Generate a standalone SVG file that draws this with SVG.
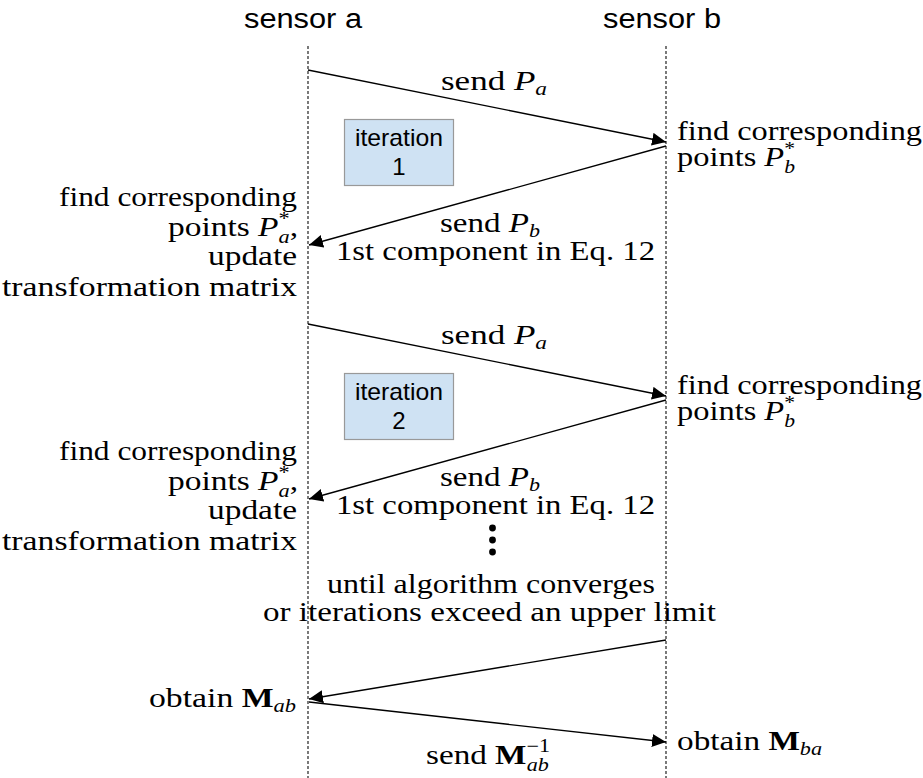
<svg xmlns="http://www.w3.org/2000/svg" width="923" height="778" viewBox="0 0 923 778">
  <style>
    .hd { font-family: "Liberation Sans", Arial, sans-serif; font-size: 27px; fill: #000; }
    .it { font-family: "Liberation Sans", Arial, sans-serif; font-size: 24px; fill: #000; text-anchor: middle; }
    .tx { font-family: "Liberation Serif", "Times New Roman", serif; font-size: 27px; fill: #000; }
    .mi { font-style: italic; }
    .mb { font-weight: bold; }
    .sub { font-style: italic; font-size: 18px; }
    .sup { font-size: 18px; }
    .life { stroke: #222; stroke-width: 1.2; stroke-dasharray: 3 2; fill: none; }
    .msg { stroke: #000; stroke-width: 1.3; fill: none; marker-end: url(#arr); }
    .box { fill: #cfe2f3; stroke: #999; stroke-width: 1.2; }
  </style>
  <defs>
    <marker id="arr" markerUnits="userSpaceOnUse" markerWidth="15" markerHeight="14" refX="14" refY="6.5" orient="auto">
      <path d="M0,0 L14,6.5 L0,13 Z" fill="#000"/>
    </marker>
  </defs>
  <rect width="923" height="778" fill="#fff"/>

  <!-- lifelines -->
  <g id="sensor-a">
    <text class="hd" x="244" y="28" textLength="118" lengthAdjust="spacingAndGlyphs">sensor a</text>
    <line class="life" x1="308" y1="46" x2="308" y2="778"/>
  </g>
  <g id="sensor-b">
    <text class="hd" x="603" y="28" textLength="118" lengthAdjust="spacingAndGlyphs">sensor b</text>
    <line class="life" x1="666" y1="46" x2="666" y2="778"/>
  </g>

  <!-- iteration markers -->
  <g id="iteration-1">
    <rect class="box" x="344.5" y="119.5" width="109" height="66"/>
    <text class="it" x="399" y="146" textLength="88" lengthAdjust="spacingAndGlyphs">iteration</text>
    <text class="it" x="399" y="175">1</text>
  </g>
  <g id="iteration-2">
    <rect class="box" x="344.5" y="373.5" width="109" height="66"/>
    <text class="it" x="399" y="400" textLength="88" lengthAdjust="spacingAndGlyphs">iteration</text>
    <text class="it" x="399" y="429">2</text>
  </g>

  <!-- messages -->
  <g id="connectors">
    <line class="msg" x1="308" y1="70" x2="666" y2="142"/>
    <line class="msg" x1="666" y1="146" x2="309" y2="245"/>
    <line class="msg" x1="308" y1="324" x2="666" y2="396"/>
    <line class="msg" x1="666" y1="400" x2="309" y2="499"/>
    <line class="msg" x1="666" y1="640" x2="309" y2="699"/>
    <line class="msg" x1="309" y1="702" x2="666" y2="742"/>
  </g>

  <!-- labels of round 1 -->
  <g id="round-1-labels" class="tx">
    <text x="494" y="90" text-anchor="middle" textLength="106" lengthAdjust="spacingAndGlyphs">send <tspan class="mi">P</tspan><tspan class="sub" dy="5">a</tspan></text>
    <text x="677" y="140" textLength="245" lengthAdjust="spacingAndGlyphs">find corresponding</text>
    <text x="677" y="166" textLength="118" lengthAdjust="spacingAndGlyphs">points <tspan class="mi">P</tspan><tspan class="sup" dy="-11">*</tspan><tspan class="sub" dx="-9" dy="18">b</tspan></text>
    <text x="490" y="232" text-anchor="middle" textLength="100" lengthAdjust="spacingAndGlyphs">send <tspan class="mi">P</tspan><tspan class="sub" dy="5">b</tspan></text>
    <text x="655" y="260" text-anchor="end" textLength="319" lengthAdjust="spacingAndGlyphs">1st component in Eq. 12</text>
    <text x="297" y="206" text-anchor="end" textLength="238" lengthAdjust="spacingAndGlyphs">find corresponding</text>
    <text x="298" y="236" text-anchor="end" textLength="130" lengthAdjust="spacingAndGlyphs">points <tspan class="mi">P</tspan><tspan class="sup" dy="-11">*</tspan><tspan class="sub" dx="-9" dy="18">a</tspan><tspan dy="-7">,</tspan></text>
    <text x="297" y="265" text-anchor="end" textLength="89" lengthAdjust="spacingAndGlyphs">update</text>
    <text x="297" y="296" text-anchor="end" textLength="295" lengthAdjust="spacingAndGlyphs">transformation matrix</text>
  </g>

  <!-- labels of round 2 -->
  <g id="round-2-labels" class="tx">
    <text x="494" y="344" text-anchor="middle" textLength="106" lengthAdjust="spacingAndGlyphs">send <tspan class="mi">P</tspan><tspan class="sub" dy="5">a</tspan></text>
    <text x="677" y="394" textLength="245" lengthAdjust="spacingAndGlyphs">find corresponding</text>
    <text x="677" y="420" textLength="118" lengthAdjust="spacingAndGlyphs">points <tspan class="mi">P</tspan><tspan class="sup" dy="-11">*</tspan><tspan class="sub" dx="-9" dy="18">b</tspan></text>
    <text x="490" y="486" text-anchor="middle" textLength="100" lengthAdjust="spacingAndGlyphs">send <tspan class="mi">P</tspan><tspan class="sub" dy="5">b</tspan></text>
    <text x="655" y="514" text-anchor="end" textLength="319" lengthAdjust="spacingAndGlyphs">1st component in Eq. 12</text>
    <text x="297" y="460" text-anchor="end" textLength="238" lengthAdjust="spacingAndGlyphs">find corresponding</text>
    <text x="298" y="490" text-anchor="end" textLength="130" lengthAdjust="spacingAndGlyphs">points <tspan class="mi">P</tspan><tspan class="sup" dy="-11">*</tspan><tspan class="sub" dx="-9" dy="18">a</tspan><tspan dy="-7">,</tspan></text>
    <text x="297" y="519" text-anchor="end" textLength="89" lengthAdjust="spacingAndGlyphs">update</text>
    <text x="297" y="550" text-anchor="end" textLength="295" lengthAdjust="spacingAndGlyphs">transformation matrix</text>
  </g>

  <!-- continuation -->
  <g id="continuation">
    <circle cx="492.5" cy="528" r="3.4" fill="#000"/>
    <circle cx="492.5" cy="540" r="3.4" fill="#000"/>
    <circle cx="492.5" cy="552" r="3.4" fill="#000"/>
    <text class="tx" x="491" y="593" text-anchor="middle" textLength="328" lengthAdjust="spacingAndGlyphs">until algorithm converges</text>
    <text class="tx" x="489.5" y="621" text-anchor="middle" textLength="453" lengthAdjust="spacingAndGlyphs">or iterations exceed an upper limit</text>
  </g>

  <!-- final exchange -->
  <g id="final-labels" class="tx">
    <text x="296" y="707" text-anchor="end" textLength="147" lengthAdjust="spacingAndGlyphs">obtain <tspan class="mb">M</tspan><tspan class="sub" dy="5">ab</tspan></text>
    <text x="677" y="750" textLength="145" lengthAdjust="spacingAndGlyphs">obtain <tspan class="mb">M</tspan><tspan class="sub" dy="5">ba</tspan></text>
    <text x="426" y="764" textLength="124" lengthAdjust="spacingAndGlyphs">send <tspan class="mb">M</tspan><tspan class="sup" dy="-12">−1</tspan><tspan class="sub" dx="-19" dy="19">ab</tspan></text>
  </g>
</svg>
